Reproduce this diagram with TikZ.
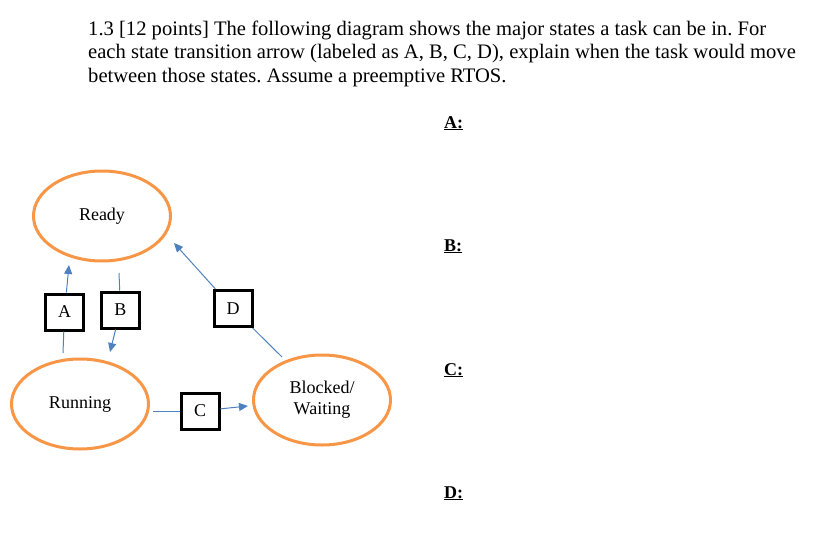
\documentclass[tikz,border=0pt]{standalone}
\usepackage{fontspec}
\setmainfont{Liberation Serif}
\usetikzlibrary{shapes.geometric,arrows.meta}
\definecolor{stateorange}{HTML}{F79646}
\definecolor{arrowblue}{HTML}{4F81BD}
\frenchspacing
\begin{document}
\begin{tikzpicture}[
  x=1pt, y=-1pt,
  state/.style={ellipse, draw=stateorange, line width=3pt, minimum width=137pt, minimum height=90pt, inner sep=0pt, align=center, font=\fontsize{18}{21}\selectfont},
  trans/.style={draw, line width=3pt, minimum width=38pt, minimum height=36pt, inner sep=0pt, font=\fontsize{18}{20}\selectfont},
  conn/.style={draw=arrowblue, line width=1pt},
  tip/.style={conn, -{Triangle[length=9pt, width=8pt]}},
  question/.style={anchor=base west, inner sep=0pt, font=\fontsize{20.6}{23}\selectfont},
  answer/.style={anchor=base west, inner sep=0pt, font=\fontsize{18}{20}\selectfont\bfseries}
]
\useasboundingbox (0,0) rectangle (832,551);
% question text
\foreach \y/\txt [count=\i] in {36/{1.3 [12 points] The following diagram shows the major states a task can be in. For},
  59/{each state transition arrow (labeled as A, B, C, D), explain when the task would move},
  82/{between those states. Assume a preemptive RTOS.}}
  \node[question] (q\i) at (88,\y) {\txt};
% answer slots
\foreach \y/\lab in {128/A, 251/B, 375/C, 498/D}
  \node[answer] (ans\lab) at (444,\y) {\underline{\lab:}};
% states
\node[state] (ready) at (102,216) {Ready};
\node[state] (running) at (80,404) {Running};
\node[state] (blocked) at (322,400) {Blocked/\\Waiting};
% transition labels
\node[trans] (A) at (64.5,312) {A};
\node[trans] (B) at (120.5,310) {B};
\node[trans] (D) at (233,308.5) {D};
\node[trans] (C) at (200,411) {C};
% free arrow ends
\coordinate (a0) at (63,353);
\coordinate (a1) at (69,265);
\coordinate (b0) at (119,273);
\coordinate (b1) at (110,352);
\coordinate (c0) at (153,411);
\coordinate (c1) at (248,406);
\coordinate (d0) at (282,357);
\coordinate (d1) at (174,243);
% transitions
\draw[conn] (a0) -- (A);
\draw[tip] (A) -- (a1);
\draw[conn] (b0) -- (B);
\draw[tip] (B) -- (b1);
\draw[conn] (c0) -- (C);
\draw[tip] (C) -- (c1);
\draw[conn] (d0) -- (D);
\draw[tip] (D) -- (d1);
\end{tikzpicture}
\end{document}
